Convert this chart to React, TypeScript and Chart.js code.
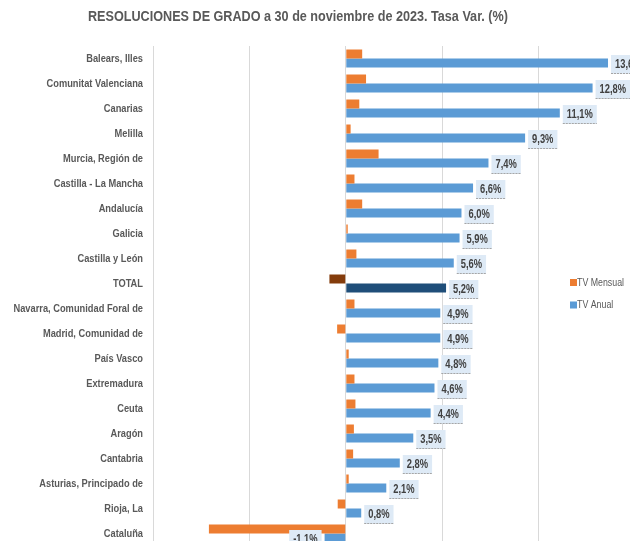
import React, { useEffect, useRef } from "react";
import { Chart, registerables } from "chart.js";

Chart.register(...registerables);

const categories = [
  "Balears, Illes",
  "Comunitat Valenciana",
  "Canarias",
  "Melilla",
  "Murcia, Región de",
  "Castilla - La Mancha",
  "Andalucía",
  "Galicia",
  "Castilla y León",
  "TOTAL",
  "Navarra, Comunidad Foral de",
  "Madrid, Comunidad de",
  "País Vasco",
  "Extremadura",
  "Ceuta",
  "Aragón",
  "Cantabria",
  "Asturias, Principado de",
  "Rioja, La",
  "Cataluña",
];

const tvAnual = [13.6, 12.8, 11.1, 9.3, 7.4, 6.6, 6.0, 5.9, 5.6, 5.2, 4.9, 4.9, 4.8, 4.6, 4.4, 3.5, 2.8, 2.1, 0.8, -1.1];
const tvMensual = [0.85, 1.05, 0.7, 0.25, 1.7, 0.45, 0.85, 0.1, 0.55, -0.85, 0.45, -0.45, 0.15, 0.45, 0.5, 0.42, 0.38, 0.15, -0.42, -7.1];

const seriesNames = ["TV Mensual", "TV Anual"];
const titleText = "RESOLUCIONES DE GRADO a 30 de noviembre de 2023. Tasa Var. (%)";
const xTicks = { min: -10, max: 15, step: 5 };

const FAMILY = '"Liberation Sans", Arial, sans-serif';

const ORANGE = "#ED7D31";
const BLUE = "#5B9BD5";
const BROWN = "#843C0C";
const NAVY = "#1F4E79";

function scaleFor(ctx: CanvasRenderingContext2D, font: string, text: string, target: number): number {
  ctx.save();
  ctx.font = font;
  const w = ctx.measureText(text).width;
  ctx.restore();
  return target / w;
}

function drawCondensed(
  ctx: CanvasRenderingContext2D,
  text: string,
  x: number,
  y: number,
  font: string,
  sx: number,
  align: "left" | "right" | "center",
  color: string
) {
  ctx.save();
  ctx.font = font;
  ctx.fillStyle = color;
  ctx.textBaseline = "middle";
  ctx.textAlign = align;
  ctx.translate(x, y);
  ctx.scale(sx, 1);
  ctx.fillText(text, 0, 0);
  ctx.restore();
}

const fmt = (v: number) => v.toFixed(1).replace(".", ",") + "%";

export default function App() {
  const ref = useRef<HTMLCanvasElement | null>(null);

  useEffect(() => {
    document.body.style.margin = "0";
    const canvas = ref.current!;
    const mctx = document.createElement("canvas").getContext("2d")!;

    const labelFont = `bold 11.5px ${FAMILY}`;
    const titleFont = `bold 15px ${FAMILY}`;
    const valueFont = `bold 12px ${FAMILY}`;
    const legendFont = `10.5px ${FAMILY}`;
    const labelSx = scaleFor(mctx, labelFont, "Navarra, Comunidad Foral de", 129.5);
    const titleSx = scaleFor(mctx, titleFont, titleText, 420);
    const valueSx = scaleFor(mctx, valueFont, "12,8%", 26.5);
    const legendSx = scaleFor(mctx, legendFont, "TV Mensual", 47);

    const totalIdx = categories.indexOf("TOTAL");

    const overlay = {
      id: "overlay",
      afterDatasetsDraw(chart: any) {
        const ctx = chart.ctx as CanvasRenderingContext2D;
        const meta = chart.getDatasetMeta(1);
        ctx.save();
        ctx.font = valueFont;
        meta.data.forEach((bar: any, i: number) => {
          const v = tvAnual[i];
          const txt = fmt(v);
          const tw = ctx.measureText(txt).width * valueSx;
          const bw = tw + 8;
          const bh = 19;
          const cy = bar.y + 1.5;
          const x0 = v >= 0 ? bar.x + 3 : bar.x - 3 - bw;
          const y0 = cy - bh / 2;
          ctx.fillStyle = "#DEEAF6";
          ctx.fillRect(x0, y0, bw, bh);
          ctx.strokeStyle = "#A6A6A6";
          ctx.lineWidth = 1;
          ctx.setLineDash([2, 1]);
          ctx.beginPath();
          ctx.moveTo(x0, y0 + bh - 0.5);
          ctx.lineTo(x0 + bw, y0 + bh - 0.5);
          ctx.stroke();
          ctx.setLineDash([]);
          drawCondensed(ctx, txt, x0 + 4, cy + 0.5, valueFont, valueSx, "left", "#404040");
        });
        ctx.restore();
      },
      afterDraw(chart: any) {
        const ctx = chart.ctx as CanvasRenderingContext2D;
        const yScale = chart.scales.y;
        // category labels
        categories.forEach((c, i) => {
          drawCondensed(ctx, c, 143, yScale.getPixelForValue(i) + 0.5, labelFont, labelSx, "right", "#595959");
        });
        // title
        drawCondensed(ctx, titleText, 298, 17, titleFont, titleSx, "center", "#595959");
        // legend
        const items = [
          { name: seriesNames[0], color: ORANGE, y: 282.5 },
          { name: seriesNames[1], color: BLUE, y: 305 },
        ];
        items.forEach((it) => {
          ctx.save();
          ctx.fillStyle = it.color;
          ctx.fillRect(570, it.y - 3.5, 7, 7);
          ctx.restore();
          drawCondensed(ctx, it.name, 577, it.y + 0.5, legendFont, legendSx, "left", "#595959");
        });
      },
    };

    const chart = new Chart(canvas, {
      type: "bar",
      data: {
        labels: categories,
        datasets: [
          {
            label: seriesNames[0],
            data: tvMensual,
            backgroundColor: categories.map((_, i) => (i === totalIdx ? BROWN : ORANGE)),
            barPercentage: 1,
            categoryPercentage: 0.72,
          },
          {
            label: seriesNames[1],
            data: tvAnual,
            backgroundColor: categories.map((_, i) => (i === totalIdx ? NAVY : BLUE)),
            barPercentage: 1,
            categoryPercentage: 0.72,
          },
        ],
      },
      options: {
        indexAxis: "y",
        responsive: false,
        animation: false,
        devicePixelRatio: 1,
        layout: { padding: { top: 46, left: 0, right: 0, bottom: 0 } },
        plugins: {
          legend: { display: false },
          tooltip: { enabled: false },
          title: { display: false },
        },
        scales: {
          x: {
            type: "linear",
            min: xTicks.min,
            max: xTicks.max,
            ticks: { display: false, stepSize: xTicks.step },
            grid: { color: "#D9D9D9", lineWidth: 1, drawTicks: false },
            border: { display: false },
            afterFit: (s: any) => {
              s.height = 0;
            },
          },
          y: {
            grid: { display: false, drawTicks: false },
            border: { display: false },
            ticks: { display: false, autoSkip: false },
            afterFit: (s: any) => {
              s.width = 153;
            },
          },
        },
      },
      plugins: [overlay],
    } as any);

    return () => chart.destroy();
  }, []);

  return (
    <div style={{ width: 630, height: 541, overflow: "hidden", position: "relative", background: "#fff" }}>
      <canvas ref={ref} width={635} height={546} style={{ display: "block" }} />
    </div>
  );
}
